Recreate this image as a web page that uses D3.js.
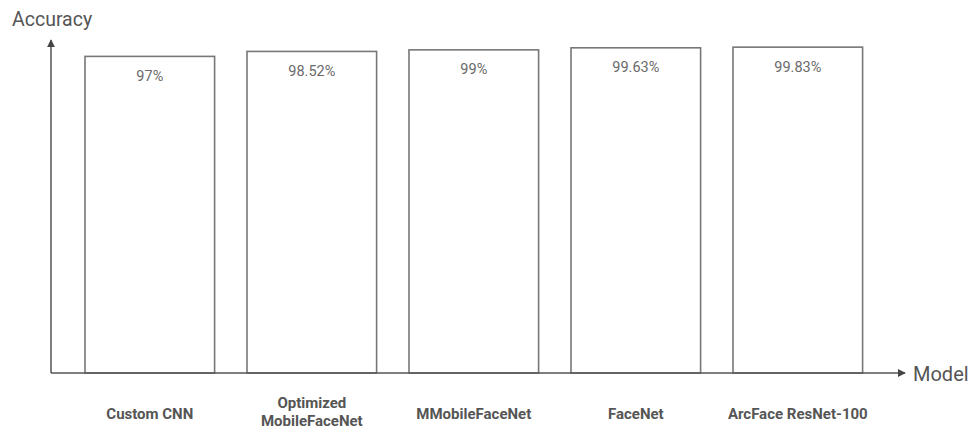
<!DOCTYPE html>
<html>
<head>
<meta charset="utf-8">
<script src="https://cdn.jsdelivr.net/npm/d3@7"></script>
<style>
  body { margin: 0; background: #fff; }
  svg { font-family: Roboto, "Noto Sans", sans-serif; }
</style>
</head>
<body>
<svg width="971" height="430"></svg>
<script>
const models = ["Custom CNN", "Optimized MobileFaceNet", "MMobileFaceNet", "FaceNet", "ArcFace ResNet-100"];
const modelLines = [["Custom CNN"], ["Optimized", "MobileFaceNet"], ["MMobileFaceNet"], ["FaceNet"], ["ArcFace ResNet-100"]];
const accuracy = [97, 98.52, 99, 99.63, 99.83];
const accuracyLabels = ["97%", "98.52%", "99%", "99.63%", "99.83%"];

const svg = d3.select("svg");
const AXIS_X = 51, AXIS_Y = 373;

const x = d3.scaleBand()
  .domain(models)
  .range([68.8, 878.8])
  .paddingInner(0.2)
  .paddingOuter(0.1);

const y = d3.scaleLinear()
  .domain([0, 100])
  .range([AXIS_Y, 46.6]);

const data = models.map((m, i) => ({model: m, value: accuracy[i], label: accuracyLabels[i], lines: modelLines[i]}));

// bars
svg.append("g")
  .selectAll("rect")
  .data(data)
  .join("rect")
  .attr("x", d => x(d.model))
  .attr("y", d => y(d.value))
  .attr("width", x.bandwidth())
  .attr("height", d => y(0) - y(d.value))
  .attr("fill", "#fff")
  .attr("stroke", "#777")
  .attr("stroke-width", 1.6);

// value labels
svg.append("g")
  .selectAll("text")
  .data(data)
  .join("text")
  .attr("x", d => x(d.model) + x.bandwidth()/2)
  .attr("y", d => y(d.value) + 24.5)
  .attr("text-anchor", "middle")
  .attr("fill", "#6a6a6a")
  .style("font-size", "14.5px")
  .text(d => d.label);

// axes with arrows
svg.append("defs").append("marker")
  .attr("id", "arrow")
  .attr("viewBox", "0 0 10 10")
  .attr("refX", 9).attr("refY", 5)
  .attr("markerWidth", 8).attr("markerHeight", 8)
  .attr("markerUnits", "userSpaceOnUse")
  .attr("orient", "auto")
  .append("path")
  .attr("d", "M0,0L10,5L0,10z")
  .attr("fill", "#444");

svg.append("line")
  .attr("x1", AXIS_X).attr("y1", AXIS_Y)
  .attr("x2", AXIS_X).attr("y2", 40)
  .attr("stroke", "#555").attr("stroke-width", 1.5)
  .attr("marker-end", "url(#arrow)");

svg.append("line")
  .attr("x1", AXIS_X).attr("y1", AXIS_Y)
  .attr("x2", 905).attr("y2", AXIS_Y)
  .attr("stroke", "#555").attr("stroke-width", 1.5)
  .attr("marker-end", "url(#arrow)");

svg.append("text")
  .attr("x", 12).attr("y", 26)
  .attr("fill", "#555")
  .style("font-size", "19.5px")
  .text("Accuracy");

svg.append("text")
  .attr("x", 913).attr("y", AXIS_Y + 8)
  .attr("fill", "#555")
  .style("font-size", "20px")
  .text("Model");

// category labels
const cat = svg.append("g")
  .selectAll("text")
  .data(data)
  .join("text")
  .attr("text-anchor", "middle")
  .attr("fill", "#555")
  .style("font-size", "15px")
  .style("font-weight", "bold")
  .attr("transform", d => `translate(${x(d.model) + x.bandwidth()/2},${d.lines.length > 1 ? 407.5 : 419})`);

cat.selectAll("tspan")
  .data(d => d.lines)
  .join("tspan")
  .attr("x", 0)
  .attr("dy", (l, i) => i === 0 ? 0 : 18.5)
  .text(l => l);
</script>
</body>
</html>
